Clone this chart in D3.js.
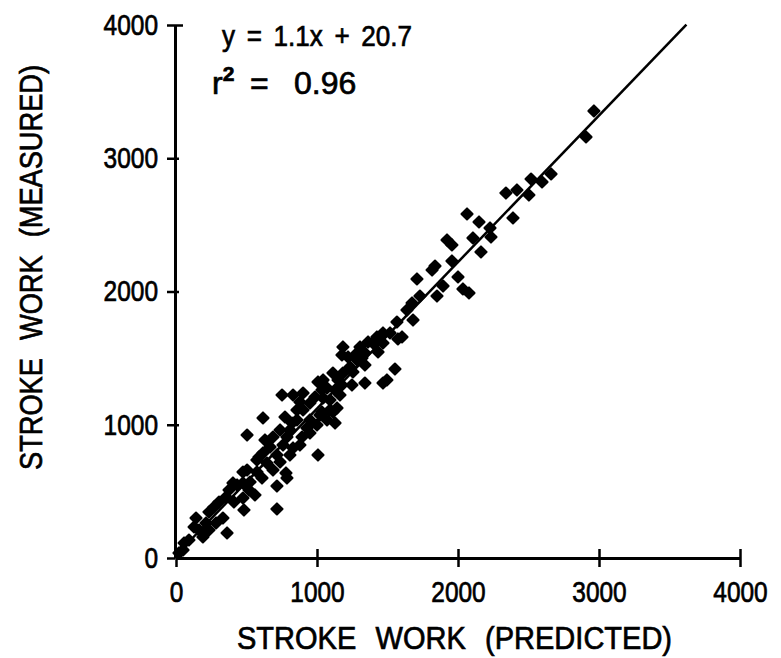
<!DOCTYPE html>
<html>
<head>
<meta charset="utf-8">
<script src="https://cdn.jsdelivr.net/npm/d3@7"></script>
<style>
  html, body { margin: 0; padding: 0; background: #fff; }
  svg { display: block; }
  text { font-family: "Liberation Sans", Arial, sans-serif; fill: #000; stroke: #000; stroke-width: 0.7px; }
</style>
</head>
<body>
<svg id="chart" width="781" height="658"></svg>
<script>
// ---- data ----
const predicted = [2964,2908,2660,2596,2518,2503,2418,2340,2390,2149,2227,2106,2234,2163,2064,1922,1957,1957,1837,1816,
  2000,2078,2035,1894,1851,1709,1730,1674,1638,1681,1567,1603,1468,1468,1518,1425,1362,1305,1340,1433,
  1284,1340,1553,1496,1468,1574,1397,1184,1177,1220,1284,1319,1234,1255,1184,1113,1043,1007,1071,1149,
  1248,1340,1128,1163,1043,986,1142,1092,901,830,879,950,901,858,858,950,1021,1071,1000,1128,
  752,1177,1035,1092,1035,1113,617,773,823,738,929,504,688,787,894,667,759,830,1007,617,
  716,574,645,738,504,574,688,475,525,787,716,433,589,780,475,376,404,355,411,475,
  518,482,716,305,270,234,333,284,213,142,128,163,234,362,92,57,191,50,21,
  808,631,879,950,808,560,610];
const measured = [3355,3160,2882,2822,2844,2724,2762,2739,2552,2522,2477,2402,2409,2297,2582,2387,2349,2229,2191,2161,
  2109,1989,2019,2041,1966,2094,1966,1914,1861,1786,1771,1659,1689,1614,1689,1659,1621,1584,1539,1546,
  1486,1448,1418,1336,1313,1644,1614,1584,1524,1509,1539,1501,1433,1396,1388,1388,1336,1321,1276,1336,
  1298,1313,1261,1223,1201,1208,1126,1111,1238,1223,1171,1163,1111,1111,1036,1036,1073,1036,998,1013,
  1223,1298,1261,1186,1096,1096,1051,1058,1013,961,976,923,908,908,908,833,848,826,773,788,
  773,735,713,720,660,645,660,563,570,600,540,548,758,638,645,510,563,458,420,450,
  510,360,368,420,383,345,300,263,263,300,233,210,210,188,135,113,158,60,38,
  773,886,848,938,961,473,600];
const tickValues = [0, 1000, 2000, 3000, 4000];
const slope = 1.1, intercept = 20.7, rSquared = 0.96;
const lineXRange = [0, 3620];
const xTitle = "STROKE WORK (PREDICTED)";
const yTitle = "STROKE WORK (MEASURED)";

// ---- chart ----
const svg = d3.select("#chart");
const x = d3.scaleLinear().domain([0, 4000]).range([176, 740]);
const y = d3.scaleLinear().domain([0, 4000]).range([558, 25]);

// regression line
svg.append("line")
  .attr("x1", x(lineXRange[0])).attr("y1", y(slope * lineXRange[0] + intercept))
  .attr("x2", x(lineXRange[1])).attr("y2", y(slope * lineXRange[1] + intercept))
  .attr("stroke", "#000").attr("stroke-width", 2.5);

// points (diamonds)
const pts = predicted.map((p, i) => ({p, m: measured[i]}));
svg.append("g").selectAll("path").data(pts).join("path")
  .attr("d", d3.symbol().type(d3.symbolSquare).size(62))
  .attr("transform", d => `translate(${x(d.p)},${y(d.m)}) rotate(45)`)
  .attr("fill", "#000").attr("stroke", "#000").attr("stroke-width", 2)
  .attr("stroke-linejoin", "round");

const fitTicks = sel => sel.attr("font-size", 29)
  .attr("font-family", "Liberation Sans, Arial, sans-serif")
  .attr("lengthAdjust", "spacingAndGlyphs")
  .attr("textLength", function() { return this.textContent.length * 13.6; });

// x axis
const gx = svg.append("g").attr("transform", `translate(0,${y(0)})`)
  .call(d3.axisBottom(x).tickValues(tickValues).tickSizeOuter(0).tickSize(0).tickPadding(23).tickFormat(d3.format("d")));
gx.select(".domain").attr("stroke", "#000").attr("stroke-width", 3);
gx.selectAll(".tick line").attr("stroke", "#000").attr("stroke-width", 2.5)
  .attr("y1", d => d === 0 ? 0 : -9).attr("y2", 9);
gx.selectAll(".tick text").call(fitTicks);

// y axis
const gy = svg.append("g").attr("transform", `translate(${x(0) - 1},0)`)
  .call(d3.axisLeft(y).tickValues(tickValues).tickSizeOuter(0).tickSize(0).tickPadding(17).tickFormat(d3.format("d")));
gy.select(".domain").attr("stroke", "#000").attr("stroke-width", 3);
gy.selectAll(".tick line").attr("stroke", "#000").attr("stroke-width", 2.5)
  .attr("x1", -8).attr("x2", d => d === 4000 ? 8 : (d === 0 ? 0 : 4));
gy.selectAll(".tick text").call(fitTicks);

// axis titles
svg.append("text").attr("x", 237).attr("y", 649)
  .attr("font-size", 31).attr("textLength", 435).attr("lengthAdjust", "spacingAndGlyphs")
  .attr("word-spacing", 12).text(xTitle);
svg.append("text").attr("transform", "translate(42,470) rotate(-90)")
  .attr("font-size", 31).attr("textLength", 405).attr("lengthAdjust", "spacingAndGlyphs")
  .attr("word-spacing", 12).text(yTitle);

// equation annotations
svg.append("text").attr("x", 222).attr("y", 46).attr("font-size", 30)
  .attr("textLength", 190).attr("lengthAdjust", "spacingAndGlyphs")
  .attr("word-spacing", 5).text(`y = ${slope}x + ${intercept}`);
const r2 = svg.append("text").attr("y", 94).attr("font-size", 32);
r2.append("tspan").attr("x", 212).text("r");
r2.append("tspan").attr("dy", -13).attr("font-size", 21).attr("font-weight", "bold").text("2");
r2.append("tspan").attr("x", 250).attr("dy", 13).text("=");
r2.append("tspan").attr("x", 294).text(`${rSquared}`);
</script>
</body>
</html>
